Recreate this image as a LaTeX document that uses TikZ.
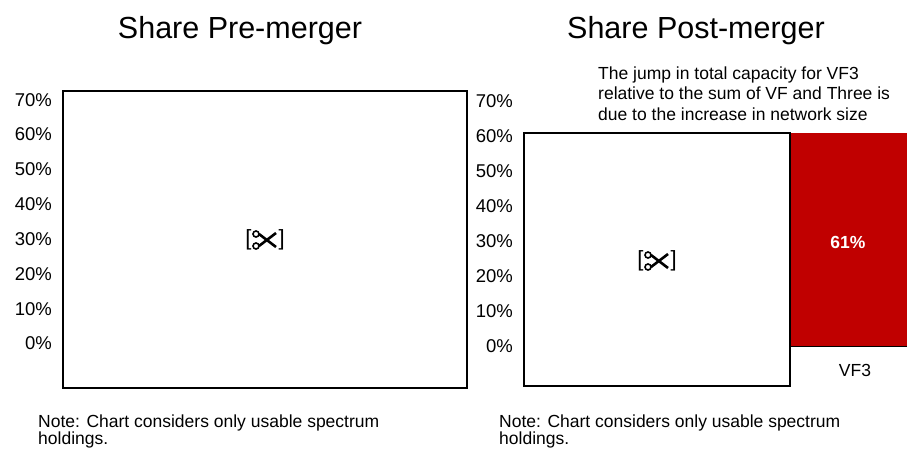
\documentclass[tikz,border=0pt]{standalone}
\usepackage{fontspec}
\setmainfont{Liberation Sans}
\definecolor{barred}{HTML}{C00000}
\definecolor{baseline}{HTML}{8090A8}
\begin{document}
\begin{tikzpicture}[x=1pt,y=-1pt,
  title/.style={font=\fontsize{30.5}{34}\selectfont, anchor=base},
  axlab/.style={font=\fontsize{18.5}{20}\selectfont, anchor=base east, inner sep=0pt},
  note/.style={font=\fontsize{17.5}{17}\selectfont, anchor=base west, inner sep=0pt, align=left},
  frame/.style={draw=black, line width=2pt},
  cut/.style={font=\fontsize{22}{24}\selectfont, inner sep=0pt},
  scissors/.pic={
    \draw[line width=2.6pt] (-6,-6) -- (11,7);
    \draw[line width=2.6pt] (-6,6) -- (11,-7);
    \draw[line width=1.6pt] (-9,-6) circle (3);
    \draw[line width=1.6pt] (-9,6) circle (3);
  }]
\useasboundingbox (0,0) rectangle (907,448);
% titles
\node[title] (t1) at (240,38) {Share Pre-merger};
\node[title] (t2) at (696,38) {Share Post-merger};
% left chart frame
\draw[frame] (63,91) rectangle (467,388);
% left axis
\foreach \v/\y in {70/100,60/134,50/169,40/204,30/239,20/274,10/309,0/343}
  \node[axlab] (la\v) at (52,\y+6.6) {\v\%};
\node[cut] (c1) at (265,240) {[\hspace{27pt}]};
\pic at (265,240) {scissors};
% right chart
\fill[barred] (790,133) rectangle (907,346);
\draw[baseline, line width=1pt] (790,346) -- (907,346);
\draw[frame] (524,133) rectangle (790,386);
\foreach \v/\y in {70/101,60/136,50/171,40/206,30/241,20/276,10/311,0/346}
  \node[axlab] (ra\v) at (513,\y+6.6) {\v\%};
\node[cut] (c2) at (657,261) {[\hspace{27pt}]};
\pic at (657,261) {scissors};
\node[font=\fontsize{17.5}{20}\selectfont\bfseries, text=white, anchor=base] (v61) at (848,248) {61\%};
\node[font=\fontsize{17.5}{20}\selectfont, anchor=base] (vf3) at (855,376) {VF3};
% annotation
\node[note, font=\fontsize{17.5}{20.5}\selectfont] (ann) at (598,120) {The jump in total capacity for VF3\\relative to the sum of VF and Three is\\due to the increase in network size};
% notes
\node[note] (n1) at (38,444) {Note: Chart considers only usable spectrum\\holdings.};
\node[note] (n2) at (499,444) {Note: Chart considers only usable spectrum\\holdings.};
\end{tikzpicture}
\end{document}
